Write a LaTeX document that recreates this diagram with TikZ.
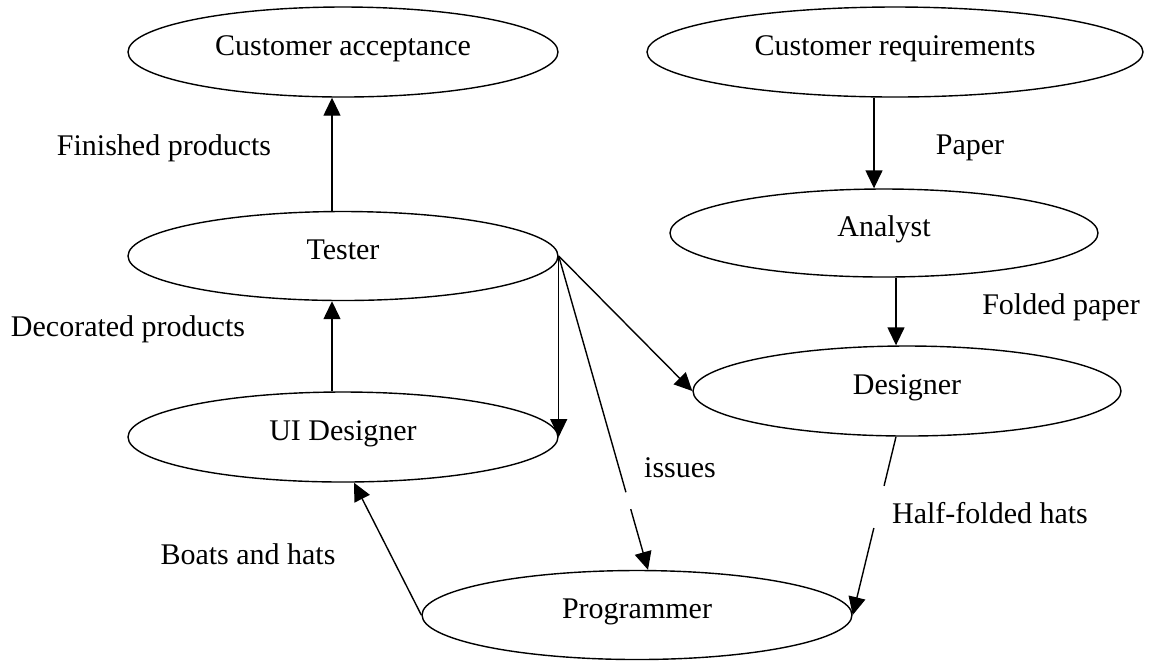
\documentclass[tikz,border=0pt]{standalone}
\usepackage{fontspec}
\setmainfont{Liberation Serif}
\usetikzlibrary{shapes.geometric,arrows.meta,calc}
\begin{document}
\begin{tikzpicture}[x=0.5pt,y=-0.5pt,
  font=\fontsize{15pt}{18pt}\selectfont,
  oval/.style={ellipse,draw,line width=0.7pt,inner sep=0pt,text height=0.68em,text depth=0.3em},
  conn/.style={line width=0.7pt,-{Triangle[length=9pt,width=8.5pt]}},
  lbl/.style={inner sep=0pt}]
\useasboundingbox (0,0) rectangle (1150,661);
% nodes
\node[oval,minimum width=215pt,minimum height=45pt] (ca) at (343,52) {Customer acceptance};
\node[oval,minimum width=248pt,minimum height=45pt] (cr) at (895,52) {Customer requirements};
\node[oval,minimum width=215pt,minimum height=44.5pt] (te) at (343,256) {Tester};
\node[oval,minimum width=214pt,minimum height=44pt] (an) at (884,233) {Analyst};
\node[oval,minimum width=214pt,minimum height=45pt] (de) at (907,391) {Designer};
\node[oval,minimum width=215pt,minimum height=45pt] (ui) at (343,437) {UI Designer};
\node[oval,minimum width=215pt,minimum height=44.5pt] (pr) at (637,615) {Programmer};
% labels
\node[lbl] (lfin) at (164,148) {Finished products};
\node[lbl] (ldec) at (128,329) {Decorated products};
\node[lbl] (lboat) at (248,554) {Boats and hats};
\node[lbl] (lpap) at (970,148) {Paper};
\node[lbl] (lfold) at (1061,307) {Folded paper};
\node[lbl] (liss) at (680,468) {issues};
\node[lbl] (lhalf) at (990,513) {Half-folded hats};
% connectors
\draw[conn] ($(te.north)+(-11,0)$) -- ($(ca.south)+(-11,0)$);
\draw[conn] ($(ui.north)+(-11,0)$) -- ($(te.south)+(-11,0)$);
\draw[conn] (te.east) -- (ui.east);
\draw[conn] (te.east) -- (de.west);
\draw[conn,dash pattern=on 122.8pt off 8.8pt on 400pt] (te.east) -- ($(pr.north)+(11,0)$);
\draw[conn,dash pattern=on 25.3pt off 21.7pt on 400pt] ($(de.south)+(-11,0)$) -- (pr.east);
\draw[conn] (pr.west) -- ($(ui.south)+(11,0)$);
\draw[conn] ($(cr.south)+(-21,0)$) -- ($(an.north)+(-10,0)$);
\draw[conn] ($(an.south)+(12,0)$) -- ($(de.north)+(-11,0)$);
\end{tikzpicture}
\end{document}
